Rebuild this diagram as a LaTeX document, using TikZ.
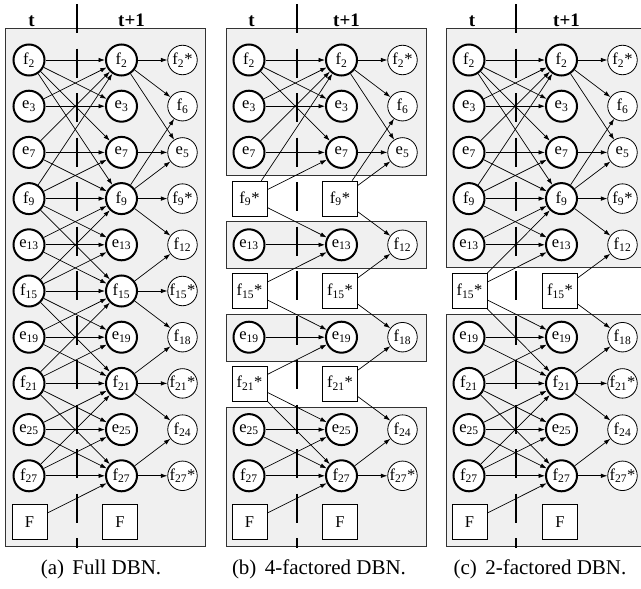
\documentclass[tikz,border=0pt]{standalone}
\usepackage{fontspec}
\setmainfont{Liberation Serif}
\usetikzlibrary{arrows.meta}
\tikzset{
  nfont/.style={font=\fontsize{16.5}{18}\selectfont},
  thk/.style={circle, draw, line width=2pt, minimum size=31pt, inner sep=0pt, fill=white, nfont},
  thn/.style={circle, draw, line width=0.8pt, minimum size=29.5pt, inner sep=0pt, fill=white, nfont},
  sqr/.style={rectangle, draw, line width=0.8pt, minimum size=35pt, inner sep=0pt, fill=white, nfont},
  arr/.style={-{Latex[length=6.5pt,width=4.5pt]}, line width=0.7pt},
  frm/.style={fill=black!6, draw=black!80, line width=0.9pt},
  frmfill/.style={fill=black!6},
  frmline/.style={draw=black!80, line width=0.9pt},
  cutline/.style={line width=2.6pt, dash pattern=on 29pt off 15.5pt},
  ttl/.style={font=\fontsize{19}{22}\selectfont\bfseries, anchor=base, inner sep=0pt},
  captext/.style={font=\fontsize{21}{25}\selectfont, anchor=base, inner sep=0pt},
}
\newcommand\dbnpanel[4]{%
  \foreach \nm/\ltr/\sbs/\ix/\shp in {#3}{%
    \pgfmathsetmacro\yy{60+46.2*\ix}%
    \if c\shp
      \node[thk] (#1L\nm) at (#2+29,\yy) {\ltr\textsubscript{\sbs}};
      \node[thk] (#1M\nm) at (#2+121.5,\yy) {\ltr\textsubscript{\sbs}};
    \else
      \node[sqr] (#1L\nm) at (#2+29.5,\yy) {\ltr\textsubscript{\sbs}*};
      \node[sqr] (#1Q\nm) at (#2+120,\yy) {\ltr\textsubscript{\sbs}*};
    \fi
  }%
  \node[sqr] (#1LF) at (#2+29.5,522) {F};
  \node[sqr] (#1QF) at (#2+120,522) {F};
  \foreach \nm/\ltr/\sbs/\stp/\ix in {#4}{%
    \pgfmathsetmacro\yy{60+46.2*\ix}%
    \node[thn] (#1R\nm) at (#2+182.5,\yy) {\ltr\textsubscript{\sbs}\if s\stp *\fi};
  }%
  \foreach \src/\tgt in {f2/f2, f2/e3, f2/e7, f2/f9, e3/e3, e3/f2, e7/f2, e7/e7, e7/f9,
      f9/f2, f9/e7, f9/f9, f9/e13, f9/f15, e13/f9, e13/e13, e13/f15,
      f15/f9, f15/e13, f15/f15, f15/e19, f15/f21, e19/f15, e19/e19, e19/f21,
      f21/f15, f21/e19, f21/f21, f21/e25, f21/f27, e25/f21, e25/e25, e25/f27,
      f27/f21, f27/e25, f27/f27, F/f27}{%
    \ifcsname pgf@sh@ns@#1M\tgt\endcsname
      \draw[arr] (#1L\src) -- (#1M\tgt);
    \fi
  }%
  \foreach \src/\tgt in {f2/f2s, f2/f6, f2/e5, e7/e5, f9/f6, f9/e5, f9/f9s, f9/f12,
      f15/f12, f15/f15s, f15/f18, f21/f18, f21/f21s, f21/f24, f27/f24, f27/f27s}{%
    \ifcsname pgf@sh@ns@#1R\tgt\endcsname
      \ifcsname pgf@sh@ns@#1M\src\endcsname
        \draw[arr] (#1M\src) -- (#1R\tgt);
      \else
        \draw[arr] (#1Q\src) -- (#1R\tgt);
      \fi
    \fi
  }%
}
\begin{document}
\begin{tikzpicture}[x=1pt,y=-1pt]
\useasboundingbox (0,0) rectangle (641,589);
% frames
\draw[frm] (5,28) rectangle (205,546);
\draw[frm] (226.5,28) rectangle (426.5,175);
\draw[frm] (226.5,221.5) rectangle (426.5,268);
\draw[frm] (226.5,314.5) rectangle (426.5,361);
\draw[frm] (226.5,407) rectangle (426.5,546);
\fill[frmfill] (446,28) rectangle (641,267.5);
\fill[frmfill] (446,314) rectangle (641,546);
\draw[frmline] (641,28) -- (446,28) -- (446,267.5) -- (641,267.5);
\draw[frmline] (641,314) -- (446,314) -- (446,546) -- (641,546);
% time cuts
\draw[cutline] (77,4) -- (77,548);
\draw[cutline] (297,4) -- (297,548);
\draw[cutline] (516,4) -- (516,548);
% titles
\node[ttl] (ta) at (31.5,26.5) {t};
\node[ttl] (ta1) at (131.5,26.5) {t+1};
\node[ttl] (tb) at (251.5,26.5) {t};
\node[ttl] (tb1) at (346.5,26.5) {t+1};
\node[ttl] (tc) at (472,26.5) {t};
\node[ttl] (tc1) at (566.5,26.5) {t+1};
% panels
\dbnpanel{a}{0}{f2/f/2/0/c, e3/e/3/1/c, e7/e/7/2/c, f9/f/9/3/c, e13/e/13/4/c, f15/f/15/5/c, e19/e/19/6/c, f21/f/21/7/c, e25/e/25/8/c, f27/f/27/9/c}{f2s/f/2/s/0, f6/f/6/n/1, e5/e/5/n/2, f9s/f/9/s/3, f12/f/12/n/4, f15s/f/15/s/5, f18/f/18/n/6, f21s/f/21/s/7, f24/f/24/n/8, f27s/f/27/s/9}
\dbnpanel{b}{220}{f2/f/2/0/c, e3/e/3/1/c, e7/e/7/2/c, f9/f/9/3/s, e13/e/13/4/c, f15/f/15/5/s, e19/e/19/6/c, f21/f/21/7/s, e25/e/25/8/c, f27/f/27/9/c}{f2s/f/2/s/0, f6/f/6/n/1, e5/e/5/n/2, f12/f/12/n/4, f18/f/18/n/6, f24/f/24/n/8, f27s/f/27/s/9}
\dbnpanel{c}{440}{f2/f/2/0/c, e3/e/3/1/c, e7/e/7/2/c, f9/f/9/3/c, e13/e/13/4/c, f15/f/15/5/s, e19/e/19/6/c, f21/f/21/7/c, e25/e/25/8/c, f27/f/27/9/c}{f2s/f/2/s/0, f6/f/6/n/1, e5/e/5/n/2, f9s/f/9/s/3, f12/f/12/n/4, f18/f/18/n/6, f21s/f/21/s/7, f24/f/24/n/8, f27s/f/27/s/9}
% captions
\node[captext] (capa) at (101,574) {(a)\hspace{0.4em}Full DBN.};
\node[captext] (capb) at (319,574) {(b)\hspace{0.4em}4-factored DBN.};
\node[captext] (capc) at (540,574) {(c)\hspace{0.4em}2-factored DBN.};
\end{tikzpicture}
\end{document}
